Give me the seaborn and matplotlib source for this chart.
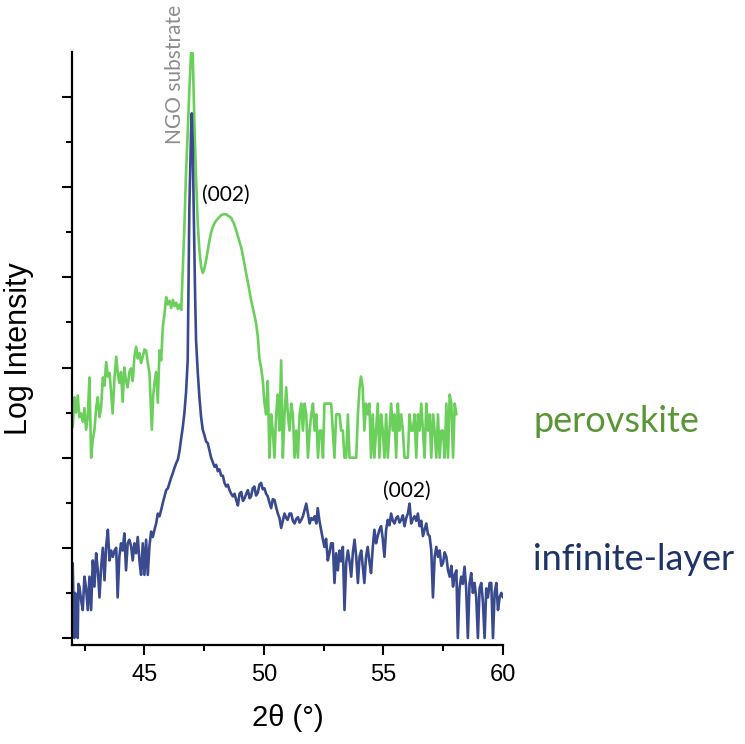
import numpy as np
import pandas as pd
import matplotlib
matplotlib.use("Agg")
import matplotlib.pyplot as plt
import seaborn as sns

# ---- data (2theta in degrees, log10 intensity with vertical offset) ----
perov_x = [42.00, 42.07, 42.14, 42.21, 42.28, 42.35, 42.42, 42.49, 42.56, 42.63, 42.70, 42.77, 42.84, 42.91, 42.98,
           43.05, 43.12, 43.19, 43.26, 43.33, 43.40, 43.47, 43.54, 43.60, 43.67, 43.75, 43.82, 43.88, 43.95, 44.02,
           44.09, 44.16, 44.23, 44.30, 44.37, 44.44, 44.51, 44.58, 44.65, 44.72, 44.79, 44.86, 44.93, 45.00, 45.07,
           45.14, 45.21, 45.31, 45.37, 45.42, 45.49, 45.56, 45.63, 45.70, 45.77, 45.84, 45.91, 45.98, 46.05, 46.12,
           46.19, 46.26, 46.33, 46.40, 46.47, 46.54, 46.60, 46.67, 46.74, 46.81, 46.88, 46.95, 47.02, 47.09, 47.16,
           47.23, 47.30, 47.37, 47.44, 47.51, 47.58, 47.65, 47.72, 47.79, 47.86, 47.93, 48.00, 48.10, 48.21, 48.31,
           48.42, 48.52, 48.63, 48.74, 48.84, 48.95, 49.05, 49.15, 49.25, 49.36, 49.46, 49.57, 49.67, 49.74, 49.81,
           49.88, 49.95, 50.02, 50.09, 50.16, 50.23, 50.30, 50.37, 50.44, 50.51, 50.58, 50.65, 50.72, 50.79, 50.86,
           50.93, 51.00, 51.07, 51.14, 51.21, 51.28, 51.35, 51.42, 51.49, 51.56, 51.63, 51.70, 51.77, 51.84, 51.91,
           51.98, 52.05, 52.12, 52.19, 52.26, 52.33, 52.40, 52.47, 52.53, 52.60, 52.67, 52.74, 52.81, 52.88, 52.95,
           53.02, 53.09, 53.16, 53.23, 53.30, 53.37, 53.44, 53.51, 53.58, 53.65, 53.72, 53.79, 53.86, 53.93, 54.00,
           54.06, 54.13, 54.20, 54.27, 54.34, 54.41, 54.48, 54.55, 54.62, 54.69, 54.76, 54.83, 54.90, 54.97, 55.04,
           55.11, 55.18, 55.25, 55.32, 55.39, 55.46, 55.53, 55.60, 55.67, 55.74, 55.81, 55.88, 55.95, 56.02, 56.09,
           56.16, 56.23, 56.30, 56.37, 56.44, 56.51, 56.58, 56.65, 56.72, 56.79, 56.86, 56.93, 57.00, 57.07, 57.14,
           57.21, 57.28, 57.35, 57.42, 57.49, 57.56, 57.63, 57.70, 57.77, 57.84, 57.91, 57.98, 58.05]
perov_y = [2.34, 2.67, 2.50, 2.69, 2.45, 2.49, 2.40, 2.55, 2.31, 2.45, 2.89, 2.00, 2.20, 2.31, 2.55,
           2.67, 2.45, 2.56, 2.89, 2.80, 3.06, 2.90, 2.94, 2.75, 2.49, 2.90, 3.12, 2.95, 2.83, 2.95,
           2.62, 3.00, 2.85, 2.78, 2.95, 2.99, 2.85, 3.12, 3.23, 3.10, 3.16, 3.05, 3.12, 3.20, 3.19,
           3.05, 2.94, 2.31, 2.70, 2.83, 2.95, 2.61, 3.19, 3.08, 3.45, 3.60, 3.78, 3.70, 3.74, 3.66,
           3.75, 3.68, 3.72, 3.65, 3.70, 3.64, 4.05, 4.55, 5.16, 5.60, 6.08, 6.49, 6.49, 5.71, 5.10,
           4.60, 4.30, 4.12, 4.05, 4.10, 4.19, 4.30, 4.41, 4.50, 4.56, 4.60, 4.63, 4.66, 4.69, 4.70,
           4.70, 4.68, 4.66, 4.60, 4.52, 4.42, 4.33, 4.20, 4.05, 3.90, 3.75, 3.62, 3.49, 3.35, 3.10,
           3.00, 2.86, 2.61, 2.48, 2.85, 2.00, 2.48, 2.30, 2.00, 2.48, 2.70, 2.30, 3.08, 2.00, 2.48,
           2.78, 2.48, 2.30, 2.60, 2.48, 2.00, 2.30, 2.00, 2.48, 2.60, 2.30, 2.60, 2.48, 2.00, 2.30,
           2.48, 2.60, 2.30, 2.48, 2.00, 2.30, 2.30, 2.00, 2.60, 2.60, 2.60, 2.60, 2.60, 2.30, 2.00,
           2.48, 2.48, 2.48, 2.30, 2.30, 2.00, 2.00, 2.48, 2.00, 2.00, 2.00, 2.00, 2.00, 2.48, 2.78,
           2.90, 2.78, 2.30, 2.60, 2.48, 2.60, 2.00, 2.48, 2.00, 2.30, 2.60, 2.00, 2.48, 2.30, 2.00,
           2.48, 2.00, 2.30, 2.60, 2.30, 2.48, 2.00, 2.60, 2.30, 2.48, 2.30, 2.00, 2.00, 2.00, 2.48,
           2.30, 2.30, 2.48, 2.00, 2.48, 2.30, 2.60, 2.30, 2.00, 2.60, 2.30, 2.48, 2.00, 2.48, 2.30,
           2.00, 2.48, 2.00, 2.30, 2.30, 2.00, 2.60, 2.00, 2.70, 2.60, 2.00, 2.60, 2.48]

inf_x = [42.00, 42.04, 42.07, 42.10, 42.14, 42.17, 42.21, 42.24, 42.28, 42.35, 42.42, 42.49, 42.56, 42.63, 42.70,
         42.77, 42.84, 42.91, 42.98, 43.05, 43.12, 43.19, 43.26, 43.33, 43.40, 43.47, 43.54, 43.61, 43.68, 43.75,
         43.82, 43.88, 43.95, 44.02, 44.09, 44.16, 44.23, 44.30, 44.37, 44.44, 44.51, 44.58, 44.65, 44.72, 44.79,
         44.86, 44.93, 45.00, 45.07, 45.14, 45.21, 45.28, 45.35, 45.42, 45.49, 45.56, 45.63, 45.70, 45.77, 45.84,
         45.91, 45.98, 46.05, 46.12, 46.19, 46.26, 46.33, 46.40, 46.47, 46.53, 46.60, 46.67, 46.74, 46.81, 46.88,
         46.95, 46.98, 47.02, 47.06, 47.12, 47.16, 47.23, 47.30, 47.37, 47.44, 47.51, 47.58, 47.65, 47.72, 47.79,
         47.86, 47.93, 48.00, 48.07, 48.14, 48.21, 48.28, 48.35, 48.42, 48.49, 48.56, 48.63, 48.70, 48.77, 48.84,
         48.91, 48.98, 49.05, 49.12, 49.19, 49.26, 49.33, 49.40, 49.46, 49.53, 49.60, 49.67, 49.74, 49.81, 49.88,
         49.95, 50.02, 50.09, 50.16, 50.23, 50.30, 50.37, 50.44, 50.51, 50.58, 50.65, 50.72, 50.79, 50.86, 50.93,
         50.99, 51.07, 51.14, 51.21, 51.28, 51.35, 51.42, 51.49, 51.56, 51.63, 51.70, 51.77, 51.84, 51.91, 51.98,
         52.05, 52.12, 52.19, 52.25, 52.32, 52.39, 52.46, 52.53, 52.60, 52.67, 52.74, 52.81, 52.88, 52.95, 53.02,
         53.09, 53.16, 53.23, 53.30, 53.37, 53.44, 53.51, 53.58, 53.65, 53.72, 53.79, 53.86, 53.93, 54.00, 54.07,
         54.13, 54.20, 54.27, 54.34, 54.41, 54.48, 54.55, 54.62, 54.69, 54.76, 54.83, 54.90, 54.97, 55.04, 55.11,
         55.18, 55.25, 55.32, 55.39, 55.46, 55.53, 55.60, 55.67, 55.74, 55.81, 55.88, 55.95, 56.02, 56.09, 56.16,
         56.23, 56.30, 56.37, 56.44, 56.51, 56.58, 56.65, 56.72, 56.79, 56.86, 56.93, 57.00, 57.07, 57.14, 57.21,
         57.28, 57.35, 57.42, 57.49, 57.56, 57.63, 57.70, 57.77, 57.84, 57.91, 57.98, 58.05, 58.11, 58.18, 58.25,
         58.32, 58.39, 58.46, 58.53, 58.60, 58.67, 58.74, 58.81, 58.88, 58.95, 59.02, 59.09, 59.16, 59.23, 59.30,
         59.37, 59.44, 59.51, 59.58, 59.65, 59.72, 59.79, 59.86, 59.93, 60.00]
inf_y = [0.83, 0.30, 0.00, 0.50, 0.42, 0.20, 0.00, 0.60, 0.57, 0.42, 0.31, 0.68, 0.55, 0.31, 0.68,
         0.31, 0.86, 0.57, 0.94, 0.75, 0.45, 0.79, 1.00, 0.64, 1.02, 1.20, 0.86, 0.97, 0.90, 0.97,
         1.00, 0.45, 0.90, 1.05, 0.97, 1.16, 0.75, 1.05, 1.09, 1.02, 0.86, 1.05, 0.94, 1.12, 0.86,
         0.70, 1.05, 0.70, 1.09, 0.70, 1.02, 1.18, 1.12, 1.20, 1.27, 1.38, 1.35, 1.42, 1.50, 1.57,
         1.64, 1.66, 1.72, 1.78, 1.83, 1.89, 1.94, 1.98, 2.08, 2.20, 2.33, 2.49, 2.72, 3.08, 4.78,
         5.60, 5.82, 5.50, 4.78, 3.80, 3.30, 2.95, 2.67, 2.45, 2.31, 2.25, 2.18, 2.16, 2.08, 2.00,
         1.95, 1.90, 1.92, 1.85, 1.87, 1.80, 1.80, 1.72, 1.68, 1.70, 1.64, 1.60, 1.57, 1.60, 1.53,
         1.47, 1.60, 1.62, 1.52, 1.55, 1.60, 1.64, 1.55, 1.57, 1.66, 1.68, 1.58, 1.61, 1.70, 1.72,
         1.65, 1.66, 1.60, 1.57, 1.50, 1.44, 1.54, 1.53, 1.45, 1.38, 1.33, 1.22, 1.30, 1.38, 1.33,
         1.31, 1.38, 1.38, 1.30, 1.27, 1.32, 1.34, 1.28, 1.31, 1.35, 1.42, 1.49, 1.38, 1.27, 1.33,
         1.31, 1.35, 1.27, 1.44, 1.30, 1.20, 1.10, 1.01, 1.10, 0.86, 0.94, 1.05, 1.05, 0.61, 0.94,
         0.75, 0.97, 0.85, 1.01, 0.31, 0.83, 0.97, 0.85, 0.68, 0.95, 1.09, 0.90, 0.61, 0.90, 0.97,
         0.80, 0.61, 0.90, 1.01, 0.85, 0.72, 1.00, 1.20, 1.05, 1.13, 1.20, 1.24, 1.10, 0.90, 1.20,
         1.31, 1.25, 1.38, 1.30, 1.27, 1.33, 1.35, 1.28, 1.31, 1.36, 1.24, 1.33, 1.38, 1.49, 1.27,
         1.32, 1.35, 1.30, 1.38, 1.24, 1.30, 1.13, 1.20, 1.27, 1.15, 1.13, 0.97, 0.45, 0.90, 1.01,
         0.90, 0.97, 0.80, 0.83, 0.95, 0.90, 0.75, 0.68, 0.80, 0.57, 0.70, 0.75, 0.00, 0.55, 0.68,
         0.60, 0.79, 0.55, 0.00, 0.60, 0.72, 0.50, 0.61, 0.45, 0.00, 0.55, 0.61, 0.40, 0.00, 0.55,
         0.45, 0.61, 0.61, 0.00, 0.50, 0.61, 0.31, 0.45, 0.50, 0.45]

series_names = ["perovskite", "infinite-layer"]
x_ticks = [45, 50, 55, 60]
peak_labels = ["(002)", "(002)"]
substrate_label = "NGO substrate"

# ---- frame ----
df = pd.concat([
    pd.DataFrame({"two_theta": perov_x, "logI": perov_y, "sample": series_names[0]}),
    pd.DataFrame({"two_theta": inf_x, "logI": inf_y, "sample": series_names[1]}),
], ignore_index=True)

sns.set_theme(style="ticks")
plt.rcParams["font.family"] = ["Liberation Sans", "DejaVu Sans"]
plt.rcParams["text.color"] = "black"
plt.rcParams["axes.labelcolor"] = "black"
plt.rcParams["xtick.color"] = "black"
plt.rcParams["ytick.color"] = "black"

fig = plt.figure(figsize=(7.45, 7.44), dpi=100)
ax = fig.add_axes([72 / 745, 1 - 645 / 744, (503 - 72) / 745, (645 - 52) / 744])

palette = {series_names[0]: "#6BCF5B", series_names[1]: "#3A4A8E"}
sns.lineplot(data=df, x="two_theta", y="logI", hue="sample", palette=palette,
             estimator=None, sort=False, legend=False, linewidth=1.9, ax=ax)

ax.set_xlim(41.97, 60.0)
ax.set_ylim(-0.078, 6.5)

ax.set_xticks(x_ticks)
ax.set_xticks([42.5, 47.5, 52.5, 57.5], minor=True)
ax.set_yticks(range(0, 7))
ax.set_yticks([0.5, 1.5, 2.5, 3.5, 4.5, 5.5], minor=True)
ax.set_yticklabels([])
ax.tick_params(axis="both", which="major", length=7.5, width=1.5, colors="black",
               direction="out", labelsize=17, pad=6)
ax.tick_params(axis="both", which="minor", length=4, width=1.5, colors="black", direction="out")

for side in ["top", "right"]:
    ax.spines[side].set_visible(False)
for side in ["left", "bottom"]:
    ax.spines[side].set_linewidth(1.6)
    ax.spines[side].set_color("black")

ax.set_xlabel("2θ (°)", fontsize=21, labelpad=13, color="black")
ax.set_ylabel("Log Intensity", fontsize=22, labelpad=14, color="black")
ax.grid(False)

# annotations
ann_font = ["Lato", "DejaVu Sans"]
ax.text(46.26, 6.25, substrate_label, rotation=90, ha="center", va="center",
        fontsize=15, color="#8C8C8C", family=ann_font, clip_on=False)
ax.text(48.39, 4.92, peak_labels[0], ha="center", va="center", fontsize=15,
        color="black", family=ann_font)
ax.text(55.96, 1.63, peak_labels[1], ha="center", va="center", fontsize=15,
        color="black", family=ann_font)

fig.text(533 / 745, 1 - 432 / 744, series_names[0], ha="left", va="baseline",
         fontsize=26, color="#5A9636", family=ann_font)
fig.text(533 / 745, 1 - 570 / 744, series_names[1], ha="left", va="baseline",
         fontsize=26, color="#1E3368", family=ann_font)

fig.savefig("out.png", dpi=100)
